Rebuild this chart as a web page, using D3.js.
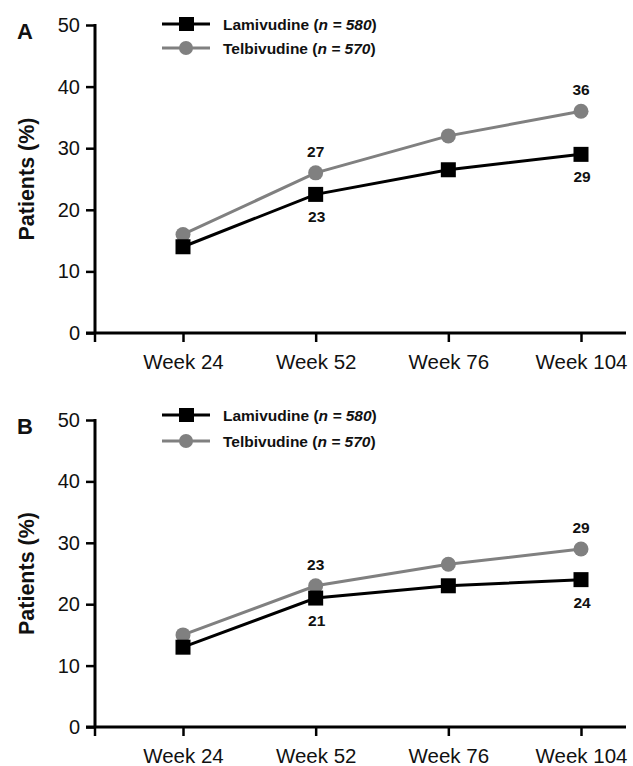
<!DOCTYPE html>
<html><head><meta charset="utf-8">
<script src="https://cdn.jsdelivr.net/npm/d3@7"></script>
<style>body{margin:0;background:#fff}svg{display:block}</style>
</head><body>
<svg id="c" width="633" height="766"></svg>
<script>
const weeks = ["Week 24","Week 52","Week 76","Week 104"];
const yTicks = [0,10,20,30,40,50];
const seriesNames = ["Lamivudine", "Telbivudine"];
const seriesN = ["580", "570"];
const lamA = [14, 22.5, 26.5, 29];
const telA = [16, 26, 32, 36];
const lamLabelsA = [null, "23", null, "29"];
const telLabelsA = [null, "27", null, "36"];
const lamB = [13, 21, 23, 24];
const telB = [15, 23, 26.5, 29];
const lamLabelsB = [null, "21", null, "24"];
const telLabelsB = [null, "23", null, "29"];

const svg = d3.select("#c");
const font = "'Liberation Sans', Arial, Helvetica, sans-serif";
const BLACK = "#000", GRAY = "#808080";
const left = 95, right = 626;
const x = d3.scalePoint().domain(weeks).range([183, 581]);

function panel(letter, top, bottom, lam, tel, lamLab, telLab, legY) {
  const g = svg.append("g");
  const y = d3.scaleLinear().domain([0, 50]).range([bottom, top]);
  // y axis
  const ya = g.append("g").attr("transform", `translate(${left},0)`)
    .call(d3.axisLeft(y).tickValues(yTicks).tickSize(9).tickSizeOuter(0).tickPadding(6));
  ya.select(".domain").attr("stroke-width", 3).attr("d", `M0,${top - 1}V${bottom}`);
  ya.selectAll(".tick line").attr("stroke-width", 2.5);
  ya.selectAll(".tick text").attr("font-family", font).attr("font-size", 20).attr("fill", "#111");
  // x axis
  const xa = g.append("g").attr("transform", `translate(0,${bottom})`)
    .call(d3.axisBottom(x).tickSize(9).tickSizeOuter(0).tickPadding(12));
  xa.select(".domain").attr("stroke-width", 3).attr("d", `M${left - 9},0H${right}`);
  xa.selectAll(".tick line").attr("stroke-width", 2.5);
  xa.selectAll(".tick text").attr("font-family", font).attr("font-size", 20.5).attr("fill", "#111");
  xa.append("line").attr("x1", left).attr("x2", left).attr("y1", 0).attr("y2", 9)
    .attr("stroke", BLACK).attr("stroke-width", 2.5);
  // y title
  g.append("text").attr("transform", `translate(34,${(top + bottom) / 2}) rotate(-90)`)
    .attr("text-anchor", "middle").attr("font-family", font).attr("font-weight", "bold")
    .attr("font-size", 21.5).attr("fill", "#111").text("Patients (%)");
  // panel letter
  g.append("text").attr("x", 17).attr("y", top + 14).attr("font-family", font)
    .attr("font-weight", "bold").attr("font-size", 22).attr("fill", "#111").text(letter);

  const line = d3.line().x((d, i) => x(weeks[i])).y(d => y(d));
  g.append("path").datum(tel).attr("d", line).attr("fill", "none")
    .attr("stroke", GRAY).attr("stroke-width", 3);
  g.append("path").datum(lam).attr("d", line).attr("fill", "none")
    .attr("stroke", BLACK).attr("stroke-width", 3);
  g.selectAll(".tc").data(tel).enter().append("circle")
    .attr("cx", (d, i) => x(weeks[i])).attr("cy", d => y(d)).attr("r", 7.5).attr("fill", GRAY);
  g.selectAll(".ls").data(lam).enter().append("rect")
    .attr("x", (d, i) => x(weeks[i]) - 7.5).attr("y", d => y(d) - 7.5)
    .attr("width", 15).attr("height", 15).attr("fill", BLACK);
  // data labels
  tel.forEach((d, i) => {
    if (!telLab[i]) return;
    g.append("text").attr("x", x(weeks[i])).attr("y", y(d) - 16).attr("text-anchor", "middle")
      .attr("font-family", font).attr("font-weight", "bold").attr("font-size", 15.5).attr("fill", "#111")
      .text(telLab[i]);
  });
  lam.forEach((d, i) => {
    if (!lamLab[i]) return;
    g.append("text").attr("x", x(weeks[i]) + 1).attr("y", y(d) + 28).attr("text-anchor", "middle")
      .attr("font-family", font).attr("font-weight", "bold").attr("font-size", 15.5).attr("fill", "#111")
      .text(lamLab[i]);
  });
  // legend
  [0, 1].forEach(k => {
    const ly = legY[k];
    const col = k === 0 ? BLACK : GRAY;
    g.append("line").attr("x1", 162).attr("x2", 210).attr("y1", ly).attr("y2", ly)
      .attr("stroke", col).attr("stroke-width", 3);
    if (k === 0) g.append("rect").attr("x", 179).attr("y", ly - 7).attr("width", 15).attr("height", 14).attr("fill", col);
    else g.append("circle").attr("cx", 186).attr("cy", ly).attr("r", 7).attr("fill", col);
    const t = g.append("text").attr("x", 223).attr("y", ly + 5.5).attr("font-family", font)
      .attr("font-weight", "bold").attr("font-size", 15.5).attr("fill", "#111");
    t.append("tspan").text(seriesNames[k] + " (");
    t.append("tspan").attr("font-style", "italic").text("n = " + seriesN[k]);
    t.append("tspan").text(")");
  });
}

panel("A", 25, 333, lamA, telA, lamLabelsA, telLabelsA, [24, 48]);
panel("B", 420, 727, lamB, telB, lamLabelsB, telLabelsB, [415, 441]);
</script>
</body></html>
